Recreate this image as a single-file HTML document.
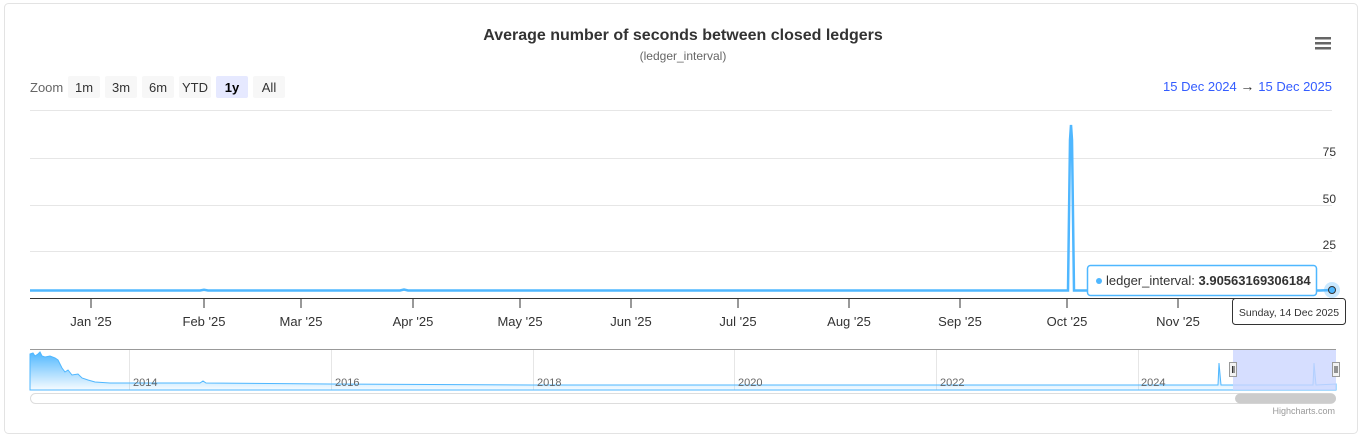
<!DOCTYPE html>
<html><head><meta charset="utf-8"><style>
body{margin:0;background:#fff;font-family:"Liberation Sans",Arial,sans-serif;}
svg text{font-family:"Liberation Sans",Arial,sans-serif;}
</style></head><body>
<svg width="1365" height="439" viewBox="0 0 1365 439" xmlns="http://www.w3.org/2000/svg">
<defs><linearGradient id="g" x1="0" y1="0" x2="0" y2="1"><stop offset="0" stop-color="#4fb7ff"/><stop offset="1" stop-color="#4fb7ff" stop-opacity="0.05"/></linearGradient></defs>
<rect x="4.5" y="3.5" width="1353" height="430" rx="4" fill="#fff" stroke="#e3e3e3"/>
<text x="683" y="40" text-anchor="middle" font-size="16" font-weight="bold" fill="#333">Average number of seconds between closed ledgers</text>
<text x="683" y="60" text-anchor="middle" font-size="12" fill="#666">(ledger_interval)</text>
<g fill="#666"><rect x="1315" y="37" width="16" height="2.5"/><rect x="1315" y="42" width="16" height="2.5"/><rect x="1315" y="47" width="16" height="2.5"/></g>
<text x="30" y="92" font-size="13" fill="#666">Zoom</text>
<g font-size="13" fill="#333" text-anchor="middle">
<rect x="68" y="76" width="32" height="22" rx="2" fill="#f7f7f7"/><text x="84" y="92">1m</text>
<rect x="105" y="76" width="32" height="22" rx="2" fill="#f7f7f7"/><text x="121" y="92">3m</text>
<rect x="142" y="76" width="32" height="22" rx="2" fill="#f7f7f7"/><text x="158" y="92">6m</text>
<rect x="179" y="76" width="32" height="22" rx="2" fill="#f7f7f7"/><text x="195" y="92">YTD</text>
<rect x="216" y="76" width="32" height="22" rx="2" fill="#e6e9ff"/><text x="232" y="92" font-weight="bold" fill="#000">1y</text>
<rect x="253" y="76" width="32" height="22" rx="2" fill="#f7f7f7"/><text x="269" y="92">All</text>
</g>
<text x="1332" y="91" text-anchor="end" font-size="13" fill="#335cff">15 Dec 2024 <tspan fill="#333" font-size="14">  →  </tspan> 15 Dec 2025</text>
<g stroke="#e6e6e6"><line x1="30" y1="110.5" x2="1332" y2="110.5"/><line x1="30" y1="158.5" x2="1332" y2="158.5"/><line x1="30" y1="205.5" x2="1332" y2="205.5"/><line x1="30" y1="251.5" x2="1332" y2="251.5"/></g>
<g font-size="12" fill="#333" text-anchor="end"><text x="1336" y="156">75</text><text x="1336" y="203">50</text><text x="1336" y="249">25</text></g>
<line x1="30" y1="298.5" x2="1332" y2="298.5" stroke="#333"/>
<g stroke="#333">
<line x1="91" y1="298" x2="91" y2="308"/><line x1="204" y1="298" x2="204" y2="308"/><line x1="301" y1="298" x2="301" y2="308"/><line x1="413" y1="298" x2="413" y2="308"/><line x1="520" y1="298" x2="520" y2="308"/><line x1="631" y1="298" x2="631" y2="308"/><line x1="738" y1="298" x2="738" y2="308"/><line x1="849" y1="298" x2="849" y2="308"/><line x1="960" y1="298" x2="960" y2="308"/><line x1="1067" y1="298" x2="1067" y2="308"/><line x1="1178" y1="298" x2="1178" y2="308"/></g>
<g font-size="13" fill="#333" text-anchor="middle">
<text x="91" y="326">Jan '25</text><text x="204" y="326">Feb '25</text><text x="301" y="326">Mar '25</text><text x="413" y="326">Apr '25</text><text x="520" y="326">May '25</text><text x="631" y="326">Jun '25</text><text x="738" y="326">Jul '25</text><text x="849" y="326">Aug '25</text><text x="960" y="326">Sep '25</text><text x="1067" y="326">Oct '25</text><text x="1178" y="326">Nov '25</text></g>
<polyline fill="none" stroke="#4fb7ff" stroke-width="2.5" points="30,290.5 200,290.5 204,289.8 208,290.5 400,290.5 404,289.5 408,290.5 1068,290.5 1070,140 1071,125 1072,140 1074,290.5 1320,290.5 1332,290"/>
<circle cx="1332" cy="290" r="8" fill="#4fb7ff" opacity="0.3"/>
<circle cx="1332" cy="290" r="3.5" fill="#4fb7ff" stroke="#333"/>
<rect x="1087.5" y="265.5" width="229" height="30" rx="3" fill="#fff" stroke="#4fb7ff" stroke-width="1.5"/>
<circle cx="1099" cy="281" r="3" fill="#4fb7ff"/>
<text x="1106" y="285" font-size="13" fill="#333">ledger_interval: <tspan font-weight="bold">3.90563169306184</tspan></text>
<rect x="1232.5" y="298.5" width="113" height="26" rx="3" fill="#fff" stroke="#333"/>
<text x="1289" y="316" font-size="10.5" fill="#333" text-anchor="middle">Sunday, 14 Dec 2025</text>
<g stroke="#e6e6e6"><line x1="129.5" y1="349" x2="129.5" y2="390"/><line x1="331.5" y1="349" x2="331.5" y2="390"/><line x1="533.5" y1="349" x2="533.5" y2="390"/><line x1="734.5" y1="349" x2="734.5" y2="390"/><line x1="936.5" y1="349" x2="936.5" y2="390"/><line x1="1138.5" y1="349" x2="1138.5" y2="390"/></g>
<path d="M30,390 L30,354 33,353 35,356 38,354 40,352 42,356 45,357 50,356 55,358 58,360 62,368 65,372 68,370 72,375 78,374 82,378 88,380 95,382 110,383 130,383 200,383 203,381 206,383 330,384 533,385 1218,385 1219,363 1221,385 1313,385 1314,363 1316,385 1336,384 L1336,390 Z" fill="url(#g)" stroke="#4fb7ff" stroke-width="1"/>
<rect x="1233" y="349" width="103" height="41" fill="#ccd6ff" opacity="0.8"/>
<line x1="30" y1="349.5" x2="1336" y2="349.5" stroke="#999"/>
<g font-size="11" fill="#666"><text x="133" y="386">2014</text><text x="335" y="386">2016</text><text x="537" y="386">2018</text><text x="738" y="386">2020</text><text x="940" y="386">2022</text><text x="1141" y="386">2024</text></g>
<rect x="1229.5" y="362.5" width="7" height="14" fill="#f2f2f2" stroke="#999"/><line x1="1232.5" y1="366" x2="1232.5" y2="373" stroke="#333"/><line x1="1234" y1="366" x2="1234" y2="373" stroke="#333"/>
<rect x="1332.5" y="362.5" width="7" height="14" fill="#f2f2f2" stroke="#999"/><line x1="1335" y1="366" x2="1335" y2="373" stroke="#333"/><line x1="1337" y1="366" x2="1337" y2="373" stroke="#333"/>
<rect x="30.5" y="393.5" width="1305" height="10" rx="5" fill="#fff" stroke="#ddd"/>
<rect x="1235" y="393.5" width="101" height="10" rx="5" fill="#ccc"/>
<text x="1335" y="414" text-anchor="end" font-size="9" fill="#999">Highcharts.com</text>
</svg>
</body></html>
